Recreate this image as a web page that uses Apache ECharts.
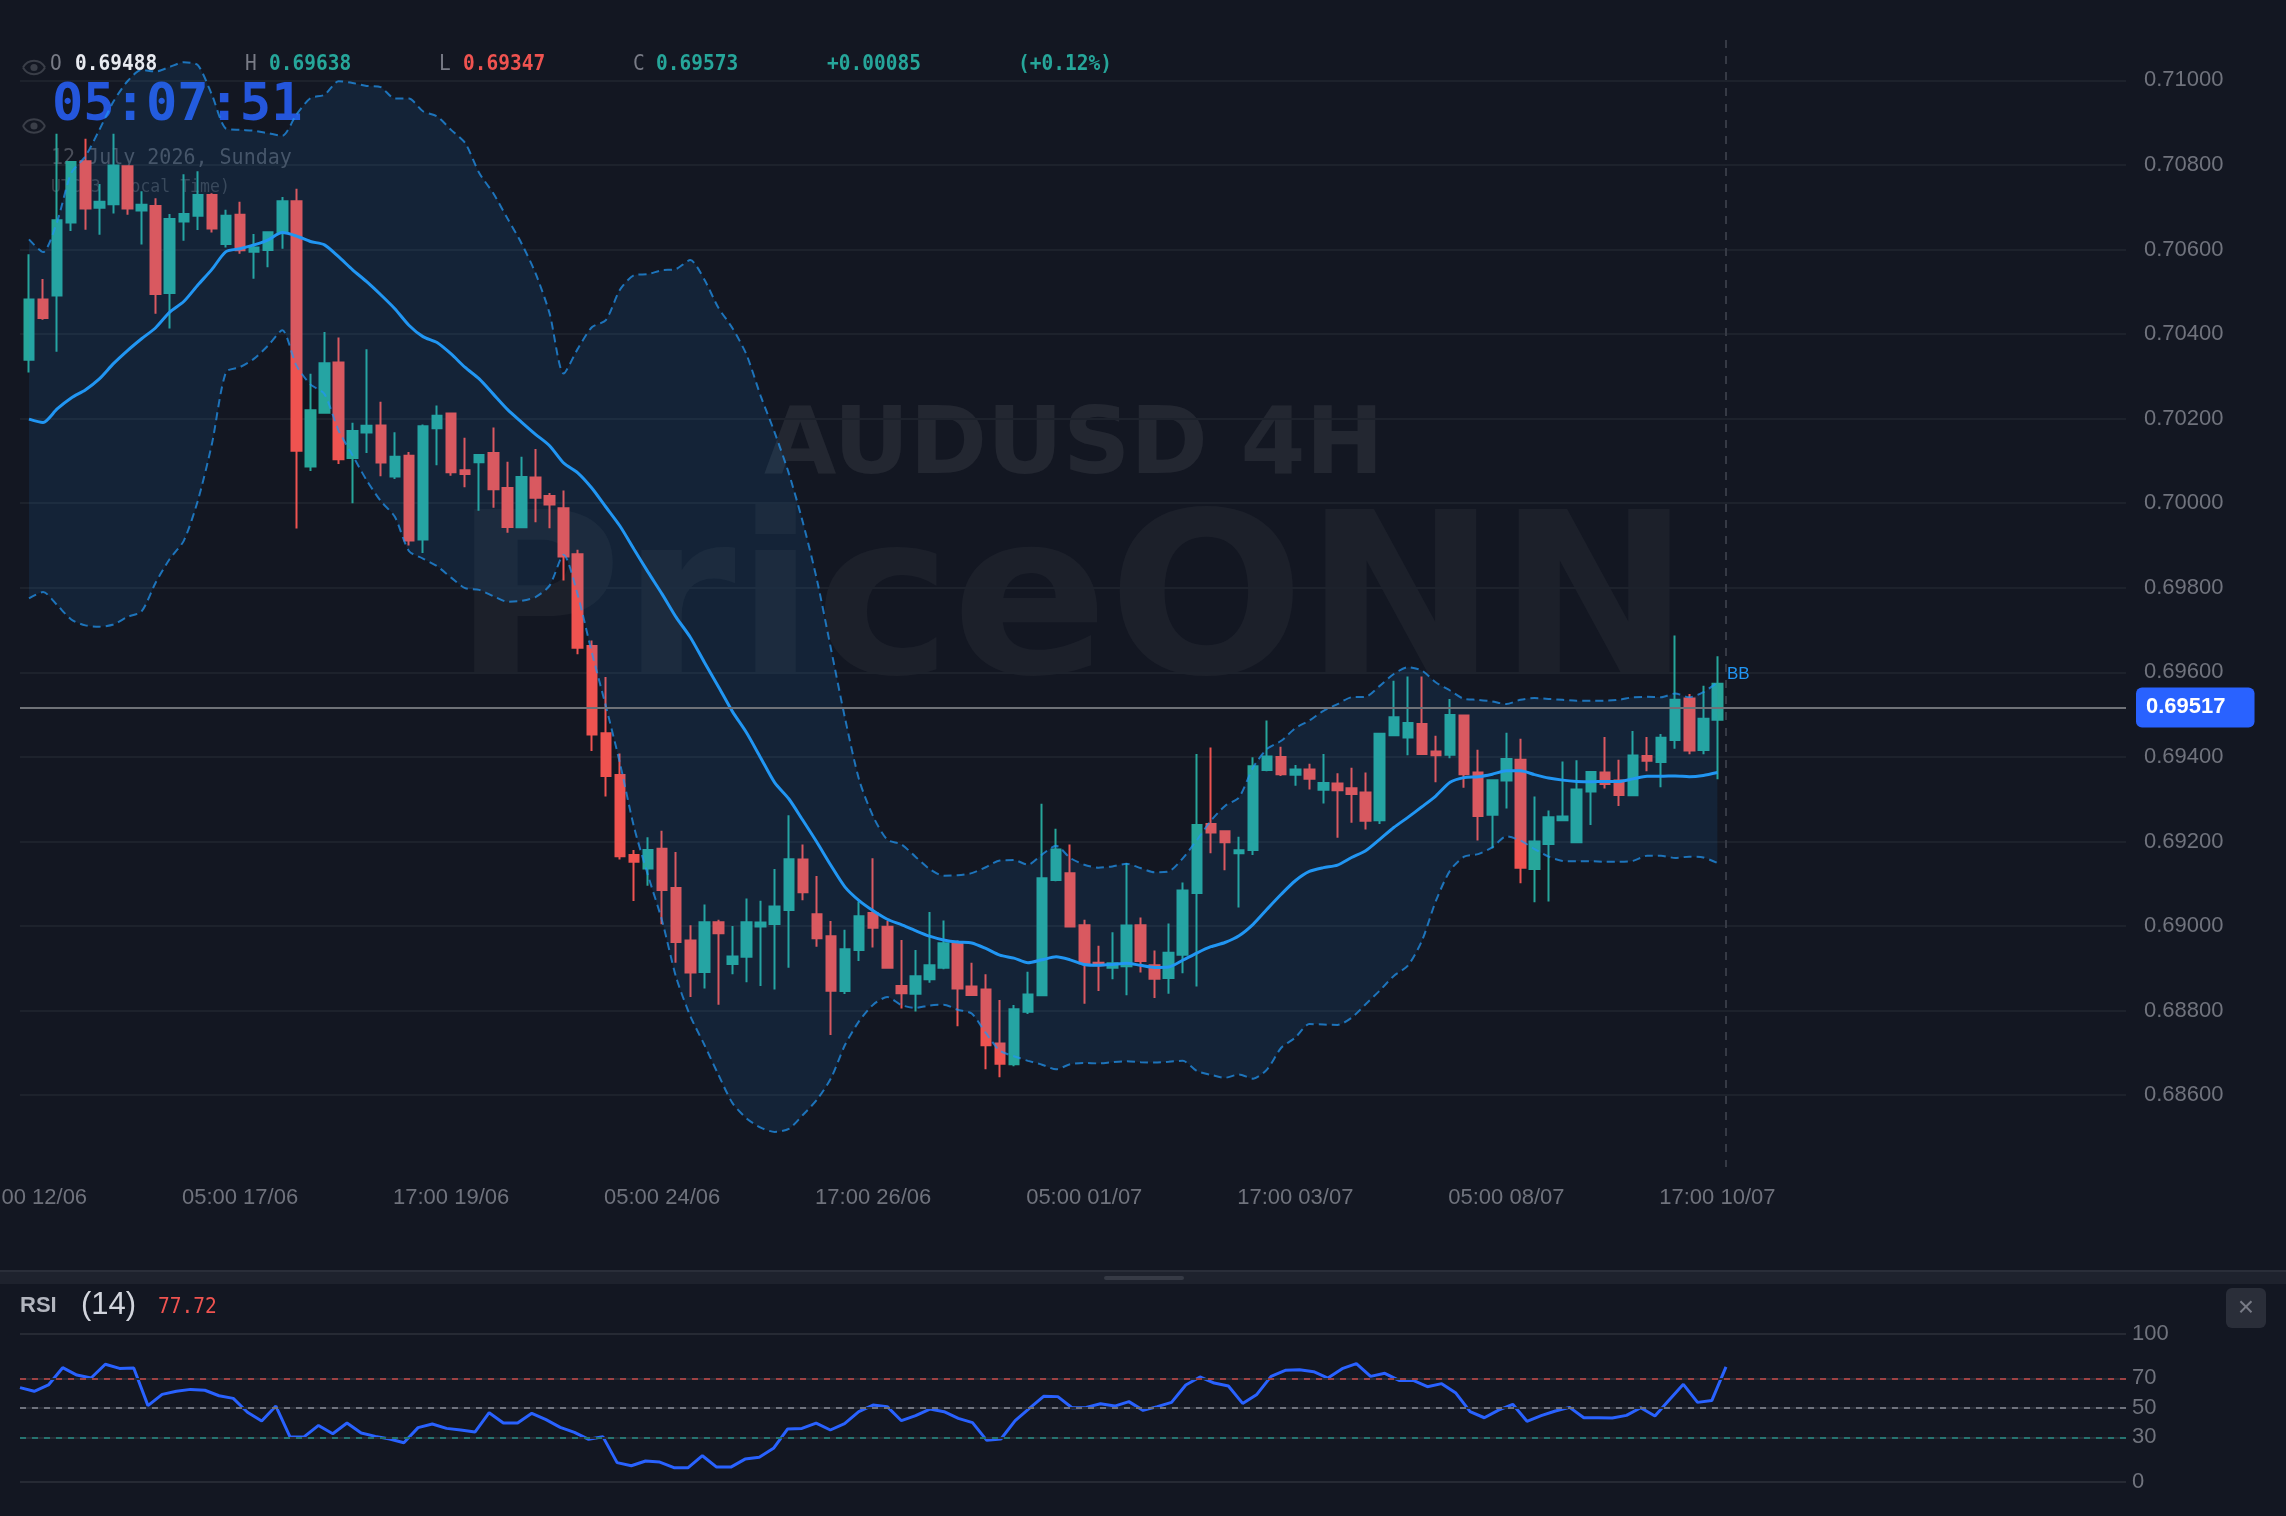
<!DOCTYPE html>
<html>
<head>
<meta charset="utf-8">
<title>AUDUSD 4H</title>
<script src="https://cdn.jsdelivr.net/npm/echarts@6/dist/echarts.min.js"></script>
<style>
html,body{margin:0;padding:0;background:#131722;}
#chart{width:2286px;height:1516px;}
</style>
</head>
<body>
<div id="chart"></div>
<script>
// AUDUSD 4-hour candles, Bollinger Bands and RSI(14)
const tickLabels = ['17:00 12/06','05:00 17/06','17:00 19/06','05:00 24/06','17:00 26/06','05:00 01/07','17:00 03/07','05:00 08/07','17:00 10/07'];
const tickEvery = 15;

const opens = [
0.70339,0.70482,0.70491,0.70664,0.70809,0.70699,0.70707,0.70797,0.70692,0.70703,
0.70497,0.70666,0.70680,0.70729,0.70613,0.70682,0.70595,0.70599,0.70639,0.70714,
0.70087,0.70214,0.70333,0.70107,0.70167,0.70184,0.70063,0.70112,0.69914,0.70177,
0.70212,0.70078,0.70097,0.70119,0.70036,0.69943,0.70061,0.70017,0.69988,0.69879,
0.69662,0.69456,0.69357,0.69168,0.69136,0.69183,0.69090,0.68966,0.68891,0.69009,
0.68910,0.68927,0.68999,0.69005,0.69038,0.69157,0.69028,0.68976,0.68846,0.68943,
0.69031,0.68998,0.68858,0.68840,0.68874,0.68901,0.68960,0.68857,0.68850,0.68722,
0.68673,0.68797,0.68836,0.69109,0.69125,0.69002,0.68913,0.68901,0.68905,0.69002,
0.68907,0.68877,0.68932,0.69078,0.69241,0.69224,0.69172,0.69180,0.69369,0.69400,
0.69358,0.69370,0.69322,0.69337,0.69326,0.69316,0.69250,0.69451,0.69446,0.69478,
0.69413,0.69405,0.69498,0.69363,0.69263,0.69344,0.69393,0.69135,0.69194,0.69250,
0.69198,0.69318,0.69363,0.69344,0.69309,0.69402,0.69388,0.69440,0.69538,0.69416,
0.69488];
const closes = [
0.70482,0.70438,0.70669,0.70807,0.70697,0.70713,0.70799,0.70697,0.70706,0.70495,
0.70672,0.70684,0.70729,0.70650,0.70680,0.70598,0.70605,0.70641,0.70714,0.70124,
0.70220,0.70331,0.70104,0.70171,0.70183,0.70096,0.70110,0.69912,0.70182,0.70207,
0.70073,0.70069,0.70114,0.70033,0.69944,0.70062,0.70013,0.69997,0.69874,0.69658,
0.69453,0.69355,0.69165,0.69152,0.69180,0.69085,0.68962,0.68890,0.69009,0.68983,
0.68928,0.69009,0.69008,0.69046,0.69158,0.69080,0.68971,0.68847,0.68945,0.69023,
0.68996,0.68901,0.68841,0.68881,0.68907,0.68959,0.68852,0.68837,0.68718,0.68674,
0.68803,0.68838,0.69113,0.69181,0.68999,0.68912,0.68907,0.68912,0.69001,0.68917,
0.68875,0.68937,0.69084,0.69239,0.69221,0.69198,0.69179,0.69378,0.69401,0.69359,
0.69370,0.69348,0.69338,0.69321,0.69312,0.69249,0.69455,0.69494,0.69480,0.69407,
0.69404,0.69499,0.69359,0.69260,0.69345,0.69395,0.69138,0.69200,0.69257,0.69259,
0.69323,0.69364,0.69336,0.69310,0.69403,0.69391,0.69445,0.69535,0.69415,0.69490,
0.69573];
const lows = [
0.70309,0.70434,0.70358,0.70644,0.70647,0.70635,0.70685,0.70682,0.70612,0.70448,
0.70413,0.70621,0.70646,0.70640,0.70605,0.70590,0.70531,0.70558,0.70602,0.69940,
0.70076,0.70212,0.70093,0.70000,0.70119,0.70064,0.70057,0.69900,0.69882,0.70090,
0.70065,0.70038,0.69982,0.69989,0.69930,0.69942,0.69955,0.69941,0.69817,0.69643,
0.69414,0.69306,0.69157,0.69059,0.69095,0.69004,0.68913,0.68832,0.68852,0.68814,
0.68886,0.68867,0.68858,0.68850,0.68901,0.69061,0.68951,0.68742,0.68839,0.68917,
0.68949,0.68899,0.68805,0.68798,0.68866,0.68898,0.68763,0.68836,0.68661,0.68642,
0.68668,0.68792,0.68835,0.69106,0.68998,0.68816,0.68846,0.68874,0.68836,0.68890,
0.68830,0.68840,0.68888,0.68857,0.69172,0.69132,0.69044,0.69168,0.69366,0.69355,
0.69332,0.69323,0.69290,0.69209,0.69244,0.69228,0.69241,0.69450,0.69404,0.69406,
0.69340,0.69397,0.69327,0.69202,0.69184,0.69278,0.69101,0.69056,0.69058,0.69249,
0.69197,0.69239,0.69325,0.69284,0.69308,0.69366,0.69328,0.69419,0.69406,0.69406,
0.69347];
const highs = [
0.70589,0.70530,0.70874,0.70808,0.70862,0.70755,0.70874,0.70799,0.70738,0.70721,
0.70684,0.70778,0.70785,0.70733,0.70694,0.70713,0.70637,0.70643,0.70724,0.70744,
0.70306,0.70405,0.70392,0.70190,0.70364,0.70240,0.70168,0.70121,0.70186,0.70231,
0.70213,0.70155,0.70115,0.70179,0.70098,0.70110,0.70128,0.70024,0.70030,0.69890,
0.69675,0.69589,0.69408,0.69180,0.69210,0.69225,0.69175,0.69002,0.69051,0.69015,
0.69000,0.69065,0.69060,0.69135,0.69262,0.69193,0.69118,0.69012,0.68991,0.69058,
0.69160,0.69012,0.68967,0.68943,0.69033,0.69013,0.68966,0.68913,0.68886,0.68825,
0.68813,0.68892,0.69289,0.69230,0.69193,0.69015,0.68953,0.68985,0.69149,0.69020,
0.68942,0.69006,0.69103,0.69407,0.69422,0.69225,0.69211,0.69399,0.69486,0.69424,
0.69381,0.69384,0.69407,0.69361,0.69374,0.69363,0.69456,0.69580,0.69590,0.69590,
0.69450,0.69537,0.69499,0.69417,0.69346,0.69457,0.69443,0.69306,0.69273,0.69389,
0.69392,0.69366,0.69447,0.69393,0.69461,0.69447,0.69454,0.69687,0.69549,0.69568,
0.69638];

const bbUpper = [
0.70624,0.70594,0.70666,0.70781,0.70820,0.70883,0.70950,0.70998,0.71025,0.71021,
0.71032,0.71043,0.71036,0.70966,0.70886,0.70883,0.70881,0.70875,0.70869,0.70919,
0.70958,0.70966,0.70998,0.70994,0.70987,0.70984,0.70957,0.70957,0.70927,0.70915,
0.70883,0.70852,0.70781,0.70733,0.70674,0.70615,0.70544,0.70449,0.70307,0.70365,
0.70416,0.70433,0.70505,0.70539,0.70542,0.70551,0.70554,0.70575,0.70529,0.70462,
0.70414,0.70351,0.70254,0.70167,0.70071,0.69955,0.69819,0.69655,0.69491,0.69346,
0.69259,0.69204,0.69193,0.69164,0.69135,0.69119,0.69120,0.69125,0.69139,0.69155,
0.69156,0.69145,0.69169,0.69190,0.69161,0.69145,0.69138,0.69141,0.69147,0.69137,
0.69127,0.69129,0.69160,0.69203,0.69249,0.69284,0.69304,0.69375,0.69419,0.69438,
0.69468,0.69486,0.69509,0.69525,0.69541,0.69542,0.69568,0.69596,0.69612,0.69604,
0.69576,0.69557,0.69537,0.69535,0.69531,0.69525,0.69535,0.69539,0.69537,0.69535,
0.69533,0.69533,0.69533,0.69535,0.69541,0.69542,0.69541,0.69550,0.69541,0.69553,
0.69576];
const bbMiddle = [
0.70199,0.70191,0.70223,0.70249,0.70268,0.70294,0.70330,0.70361,0.70389,0.70415,
0.70452,0.70477,0.70516,0.70553,0.70595,0.70602,0.70611,0.70623,0.70640,0.70632,
0.70619,0.70611,0.70583,0.70552,0.70524,0.70493,0.70460,0.70421,0.70394,0.70380,
0.70353,0.70321,0.70294,0.70258,0.70222,0.70192,0.70163,0.70136,0.70095,0.70072,
0.70036,0.69991,0.69946,0.69891,0.69837,0.69785,0.69730,0.69683,0.69624,0.69566,
0.69507,0.69457,0.69398,0.69339,0.69301,0.69250,0.69198,0.69143,0.69092,0.69060,
0.69036,0.69016,0.69003,0.68989,0.68976,0.68967,0.68962,0.68960,0.68947,0.68931,
0.68924,0.68913,0.68920,0.68927,0.68920,0.68909,0.68907,0.68909,0.68912,0.68907,
0.68902,0.68903,0.68919,0.68936,0.68951,0.68961,0.68977,0.69004,0.69040,0.69075,
0.69107,0.69129,0.69138,0.69144,0.69162,0.69178,0.69205,0.69233,0.69257,0.69282,
0.69308,0.69340,0.69351,0.69353,0.69359,0.69367,0.69367,0.69358,0.69350,0.69345,
0.69342,0.69341,0.69342,0.69342,0.69348,0.69354,0.69354,0.69355,0.69353,0.69356,
0.69363];
const bbLower = [
0.69775,0.69790,0.69759,0.69725,0.69711,0.69708,0.69713,0.69731,0.69744,0.69812,
0.69868,0.69911,0.70006,0.70140,0.70310,0.70322,0.70342,0.70373,0.70409,0.70326,
0.70281,0.70258,0.70172,0.70113,0.70054,0.70005,0.69968,0.69887,0.69869,0.69851,
0.69824,0.69799,0.69795,0.69780,0.69767,0.69769,0.69778,0.69805,0.69878,0.69783,
0.69647,0.69520,0.69385,0.69234,0.69119,0.69012,0.68878,0.68787,0.68719,0.68648,
0.68581,0.68545,0.68523,0.68513,0.68520,0.68553,0.68589,0.68640,0.68719,0.68775,
0.68814,0.68832,0.68813,0.68806,0.68812,0.68814,0.68802,0.68793,0.68747,0.68705,
0.68692,0.68681,0.68672,0.68661,0.68673,0.68676,0.68675,0.68678,0.68680,0.68678,
0.68677,0.68679,0.68681,0.68657,0.68648,0.68641,0.68649,0.68639,0.68661,0.68712,
0.68736,0.68768,0.68767,0.68766,0.68783,0.68815,0.68847,0.68882,0.68906,0.68965,
0.69060,0.69131,0.69164,0.69170,0.69186,0.69212,0.69202,0.69182,0.69164,0.69154,
0.69153,0.69153,0.69152,0.69152,0.69154,0.69166,0.69166,0.69161,0.69164,0.69162,
0.69149];

const rsiValues = [
63.7,61.2,65.5,77.2,72.2,70.2,79.5,76.7,77.0,51.5,
59.1,61.2,62.5,61.9,58.2,56.4,47.0,41.1,51.2,30.2,
30.5,38.1,32.5,39.7,33.0,30.7,28.9,26.4,36.6,39.1,
36.1,35.0,33.6,46.7,39.7,39.7,46.3,42.0,36.8,33.4,
28.7,30.5,12.9,10.8,14.0,13.3,9.5,9.5,17.6,9.9,
9.9,15.3,16.5,22.6,35.7,36.1,39.7,35.0,39.3,47.4,
51.9,50.8,41.3,44.7,49.2,47.4,42.9,40.0,28.0,28.9,
41.3,49.7,57.8,57.6,50.1,50.3,52.8,51.2,54.2,48.3,
50.8,53.7,65.5,70.9,66.8,64.8,53.0,59.1,71.3,75.4,
75.8,74.5,70.2,76.5,79.9,71.3,73.4,68.6,68.6,64.3,
66.4,60.0,47.4,43.3,48.5,52.4,40.9,44.7,47.9,50.3,
43.3,43.3,43.1,44.9,50.1,44.5,55.3,65.9,53.7,54.9,
77.72];

const lastPrice = 0.69517;
const priceTicks = {min: 0.684, max: 0.711, step: 0.002};
const rsiTicks = [0, 30, 50, 70, 100];

// Category names: only every fifteenth bar carries a date label
const categories = opens.map((_, i) => i % tickEvery === 0 ? tickLabels[i / tickEvery] : '');
const candles = opens.map((o, i) => [o, closes[i], lows[i], highs[i]]);
const bandWidth = bbUpper.map((u, i) => +(u - bbLower[i]).toFixed(5));

const BG = '#131722', GRID = '#1d222c', AXIS_TEXT = '#70737d';
const UP = '#26a69a', DOWN = '#ef5350', BB = '#2196f3';
const SANS = '"Liberation Sans", Arial, sans-serif';
const MONO = '"DejaVu Sans Mono", monospace';

const hiddenValueX = i => ({type: 'value', gridIndex: i, min: 0, max: 1, show: false});
const eye = (cx, cy) => ({
  type: 'group', x: cx, y: cy, z: 1, silent: true,
  children: [
    {type: 'bezierCurve', shape: {x1: -11, y1: 0, x2: 11, y2: 0, cpx1: -6, cpy1: -9, cpx2: 6, cpy2: -9},
     style: {fill: 'none', stroke: '#3a3e48', lineWidth: 2}},
    {type: 'bezierCurve', shape: {x1: -11, y1: 0, x2: 11, y2: 0, cpx1: -6, cpy1: 9, cpx2: 6, cpy2: 9},
     style: {fill: 'none', stroke: '#3a3e48', lineWidth: 2}},
    {type: 'circle', shape: {cx: 0, cy: 0, r: 3.6}, style: {fill: '#3a3e48'}}
  ]
});
const txt = (x, y, text, fill, size, family, weight, z, scaleX, scaleY) => ({
  type: 'text', x, y, z: z === undefined ? 20 : z, silent: true, scaleX: scaleX || 1, scaleY: scaleY || 1,
  style: {text, fill, fontSize: size, fontFamily: family, fontWeight: weight || 'normal',
          textVerticalAlign: 'middle', textAlign: 'left'}
});
// Header line: monospaced readout, slightly stretched upward
const head = (x, text, fill, weight) => txt(x, 64, text, fill, 19.5, MONO, weight, 20, 1, 1.1);

const option = {
  backgroundColor: BG,
  animation: false,
  textStyle: {fontFamily: SANS},
  grid: [
    {left: 21.965, width: 1702.47, top: 38.12, height: 1141.56, outerBoundsMode: 'none'},
    {left: 20, right: 160, top: 38.12, height: 1141.56, outerBoundsMode: 'none'},
    {left: 20, width: 1706, top: 1334, height: 147.7, outerBoundsMode: 'none'},
    {left: 20, right: 160, top: 1334, height: 147.7, outerBoundsMode: 'none'}
  ],
  xAxis: [
    {type: 'category', gridIndex: 0, data: categories,
     axisLine: {show: false}, axisTick: {show: false}, splitLine: {show: false},
     axisLabel: {interval: tickEvery - 1, color: AXIS_TEXT, fontSize: 22, fontFamily: SANS, margin: 7,
                 showMinLabel: true, showMaxLabel: true, hideOverlap: false}},
    hiddenValueX(1),
    {type: 'category', gridIndex: 2, data: categories, boundaryGap: false, show: false},
    hiddenValueX(3)
  ],
  yAxis: [
    {type: 'value', gridIndex: 0, min: priceTicks.min, max: priceTicks.max, show: false},
    {type: 'value', gridIndex: 1, position: 'right',
     min: priceTicks.min, max: priceTicks.max, interval: priceTicks.step,
     axisLine: {show: false}, axisTick: {show: false},
     splitLine: {show: true, showMinLine: false, showMaxLine: false, lineStyle: {color: GRID, width: 2}},
     axisLabel: {showMinLabel: false, showMaxLabel: false, margin: 18, color: AXIS_TEXT, fontSize: 22,
                 fontFamily: SANS, padding: [6, 0, 0, 0], formatter: v => v.toFixed(5)}},
    {type: 'value', gridIndex: 2, min: 0, max: 100, show: false},
    {type: 'value', gridIndex: 3, position: 'right', min: 0, max: 100,
     axisLine: {show: false}, axisTick: {show: false}, splitLine: {show: false},
     axisLabel: {customValues: rsiTicks, margin: 6, color: AXIS_TEXT, fontSize: 22, fontFamily: SANS,
                 padding: [6, 0, 0, 0]}}
  ],
  series: [
    {name: 'AUDUSD', type: 'candlestick', xAxisIndex: 0, yAxisIndex: 0, z: 2, barWidth: 10, data: candles,
     itemStyle: {color: UP, color0: DOWN, borderColor: UP, borderColor0: DOWN, borderWidth: 2}},
    // The band is painted over the candles, as a lower edge plus a stacked width
    {name: 'BB base', type: 'line', xAxisIndex: 0, yAxisIndex: 0, z: 3, stack: 'bb', smooth: 0.25,
     symbol: 'none', lineStyle: {opacity: 0}, data: bbLower},
    {name: 'BB fill', type: 'line', xAxisIndex: 0, yAxisIndex: 0, z: 3, stack: 'bb', smooth: 0.25,
     symbol: 'none', lineStyle: {opacity: 0}, areaStyle: {color: 'rgba(33,150,243,0.1)', opacity: 1}, data: bandWidth},
    {name: 'BB upper', type: 'line', xAxisIndex: 0, yAxisIndex: 0, z: 4, smooth: 0.25, symbol: 'none',
     lineStyle: {color: BB, width: 2, type: [8, 5], opacity: 0.72}, data: bbUpper},
    {name: 'BB lower', type: 'line', xAxisIndex: 0, yAxisIndex: 0, z: 4, smooth: 0.25, symbol: 'none',
     lineStyle: {color: BB, width: 2, type: [8, 5], opacity: 0.72}, data: bbLower},
    {name: 'BB middle', type: 'line', xAxisIndex: 0, yAxisIndex: 0, z: 4, smooth: 0.25, symbol: 'none',
     lineStyle: {color: BB, width: 3}, data: bbMiddle},
    // Last price line and its tag on the price scale
    {name: 'Last price', type: 'line', xAxisIndex: 1, yAxisIndex: 1, z: 6, data: [], silent: true,
     markLine: {silent: true, symbol: 'none', animation: false, precision: 5,
       lineStyle: {color: '#6f7278', width: 2, type: 'solid'},
       label: {show: true, position: 'end', distance: 10, formatter: () => lastPrice.toFixed(5),
               color: '#ffffff', fontSize: 22, fontWeight: 'bold', fontFamily: SANS,
               backgroundColor: '#2962ff', borderRadius: 6, padding: [10, 29, 8, 10]},
       data: [{yAxis: lastPrice}]}},
    // RSI reference levels
    {name: 'RSI levels', type: 'line', xAxisIndex: 3, yAxisIndex: 3, z: 2, data: [], silent: true,
     markLine: {silent: true, symbol: 'none', animation: false, label: {show: false},
       lineStyle: {color: '#262a34', width: 2, type: 'solid'},
       data: [
         {yAxis: 100}, {yAxis: 70}, {yAxis: 50}, {yAxis: 30}, {yAxis: 0},
         {yAxis: 70, lineStyle: {color: '#ef5350', opacity: 0.6, width: 2, type: [6, 6]}},
         {yAxis: 50, lineStyle: {color: '#787b86', opacity: 0.9, width: 2, type: [6, 6]}},
         {yAxis: 30, lineStyle: {color: '#26a69a', opacity: 0.6, width: 2, type: [6, 6]}}
       ]}},
    {name: 'RSI', type: 'line', xAxisIndex: 2, yAxisIndex: 2, z: 4, symbol: 'none',
     lineStyle: {color: '#2962ff', width: 3}, data: rsiValues}
  ],
  graphic: {elements: [
    // Watermark and clock sit underneath the series
    txt(453, 615, 'PriceONN', 'rgba(255,255,255,0.04)', 224, '"DejaVu Sans", sans-serif', 'bold', 0, 1.03, 1),
    txt(764, 449, 'AUDUSD 4H', 'rgba(255,255,255,0.07)', 93.5, '"DejaVu Sans", sans-serif', 'bold', 0),
    txt(52, 106, '05:07:51', '#2456dc', 52, MONO, 'bold', 1),
    txt(51, 158, '12 July 2026, Sunday', '#4b4f5a', 20, MONO, 'normal', 1, 1, 1.1),
    txt(51, 187, 'UTC+3 (Local Time)', '#3d414b', 16.5, MONO, 'normal', 1, 1, 1.1),
    eye(34, 67.5), eye(34, 126),
    // Crosshair
    {type: 'line', z: 1, silent: true, shape: {x1: 1726, y1: 40, x2: 1726, y2: 1167},
     style: {stroke: '#363a45', lineWidth: 2, lineDash: [8, 8]}},
    // OHLC header
    head(50, 'O', '#787b86'),
    head(75, '0.69488', '#e8eaf0', 'bold'),
    head(245, 'H', '#787b86'),
    head(269, '0.69638', UP, 'bold'),
    head(439, 'L', '#787b86'),
    head(463, '0.69347', DOWN, 'bold'),
    head(633, 'C', '#787b86'),
    head(656, '0.69573', UP, 'bold'),
    head(827, '+0.00085', UP, 'bold'),
    head(1018, '(+0.12%)', UP, 'bold'),
    txt(1727, 674, 'BB', BB, 17, SANS),
    // Divider between the panes
    {type: 'rect', z: 1, silent: true, shape: {x: 0, y: 1270, width: 2286, height: 14}, style: {fill: '#1e222d'}},
    {type: 'rect', z: 1, silent: true, shape: {x: 0, y: 1270, width: 2286, height: 2}, style: {fill: '#2a2e39'}},
    {type: 'rect', z: 2, silent: true, shape: {x: 1104, y: 1276, width: 80, height: 4, r: 2}, style: {fill: '#363a45'}},
    // RSI header
    txt(20, 1306, 'RSI', '#b2b5be', 22, SANS, 'bold'),
    txt(81, 1305, '(14)', '#d1d4dc', 31, SANS),
    txt(158, 1307, '77.72', DOWN, 19.5, MONO, 'normal', 20, 1, 1.1),
    // Close button
    {type: 'rect', z: 20, silent: true, shape: {x: 2226, y: 1288, width: 40, height: 40, r: 6}, style: {fill: '#2a2e39'}},
    {type: 'text', x: 2246, y: 1308, z: 21, silent: true,
     style: {text: '×', fill: '#787b86', fontSize: 28, fontFamily: SANS, textAlign: 'center', textVerticalAlign: 'middle'}}
  ]}
};

const chart = echarts.init(document.getElementById('chart'), null, {renderer: 'canvas', width: 2286, height: 1516});
chart.setOption(option);
</script>
</body>
</html>
